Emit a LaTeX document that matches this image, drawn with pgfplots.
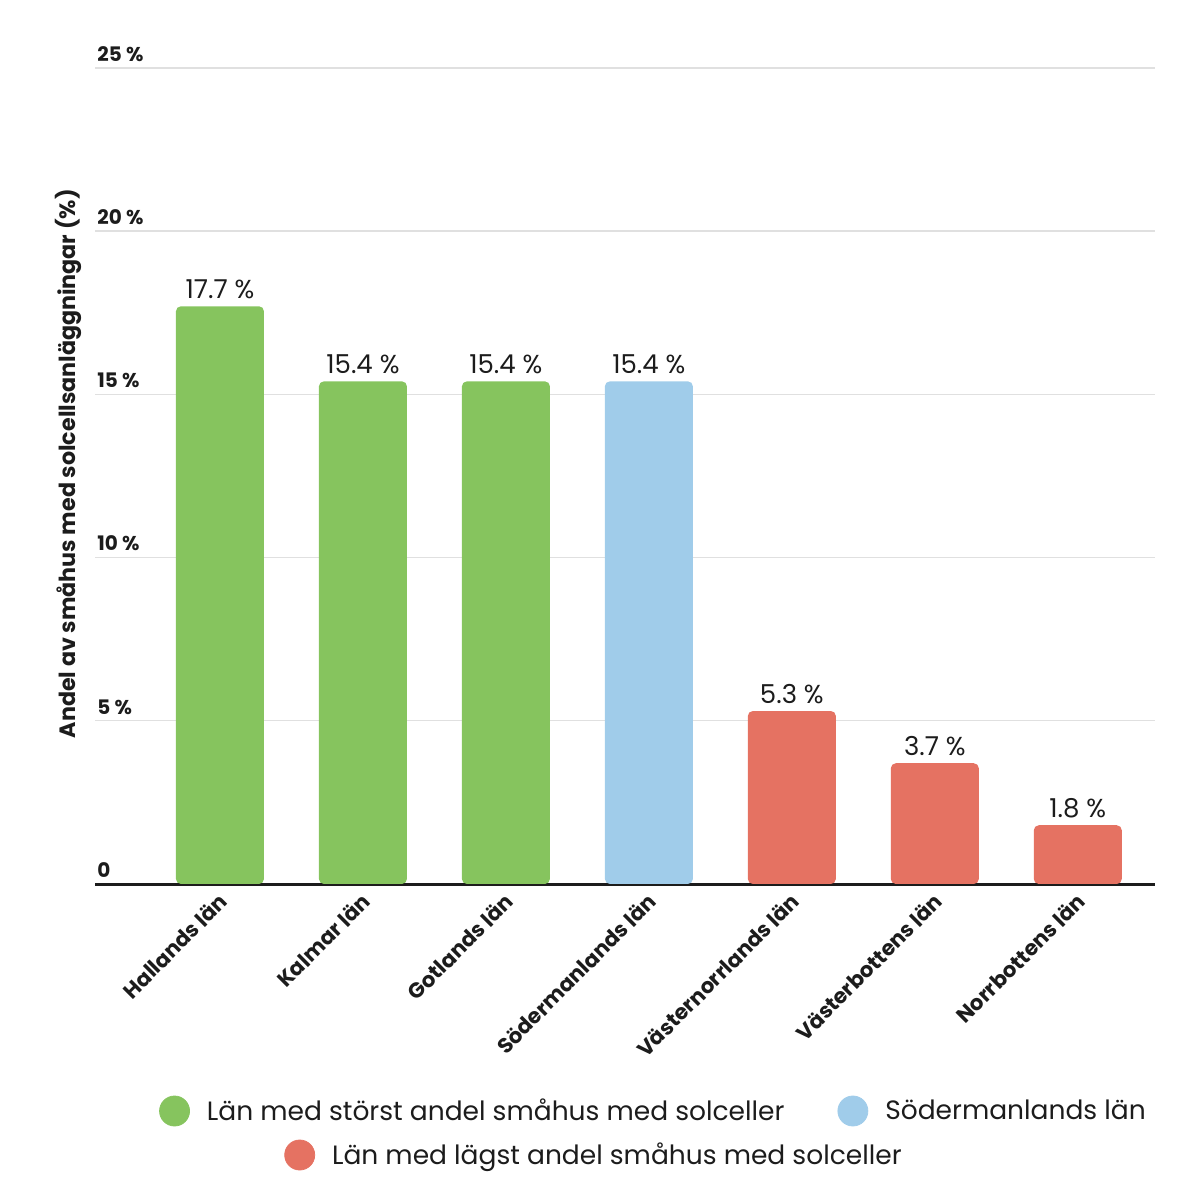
\documentclass[border=0pt]{standalone}
\usepackage{pgfplots}
\pgfplotsset{compat=1.18}
\usepackage{fontspec}
\setmainfont{Poppins}
\definecolor{greenc}{RGB}{134,196,94}
\definecolor{bluec}{RGB}{160,204,234}
\definecolor{redc}{RGB}{229,114,98}
\definecolor{txt}{RGB}{28,28,28}
\pgfplotsset{
  dotlegend/.style={legend image code/.code={\fill[#1] (0bp,0bp) circle (7.5bp);}},
  layers/mylayers/.define layer set={axis background,axis grid,pre main,main,axis ticks,axis lines,axis tick labels,axis descriptions,axis foreground}{},
}
\pgfplotstableread{
x y
0 17.7
1 15.4
2 15.4
}\greendata
\pgfplotstableread{
x y
3 15.4
}\bluedata
\pgfplotstableread{
x y
4 5.3
5 3.7
6 1.8
}\reddata
\begin{document}
\begin{tikzpicture}
\begin{axis}[
  set layers=mylayers,
  at={(0,0)}, anchor=south west,
  scale only axis, width=530bp, height=408bp,
  xmin=-0.874, xmax=6.54, ymin=0, ymax=25,
  axis x line*=bottom, axis y line*=left,
  x axis line style={line width=1.5bp, draw=txt, -},
  y axis line style={draw=none},
  ytick={0,5,...,25},
  yticklabels={0,5 \%,10 \%,15 \%,20 \%,25 \%},
  yticklabel style={anchor=south west, inner sep=0pt, xshift=1bp, yshift=3bp,
    font=\fontsize{10bp}{12bp}\selectfont\bfseries, text=txt},
  ymajorgrids, grid style={draw=black!12, line width=0.7bp},
  major tick length=0pt,
  xtick={0,...,6},
  xticklabels={Hallands län, Kalmar län, Gotlands län, Södermanlands län, Västernorrlands län, Västerbottens län, Norrbottens län},
  xticklabel style={xshift=2.5bp, yshift=-6bp, rotate=45, anchor=east, inner sep=1bp,
    font=\fontsize{10.6bp}{12bp}\selectfont\bfseries, text=txt},
  ylabel={Andel av småhus med solcellsanläggningar (\%)},
  ylabel style={at={(axis description cs:-0.0255,0.515)}, anchor=center,
    font=\fontsize{11.1bp}{13bp}\selectfont\bfseries, text=txt},
  ybar, bar width=44bp, bar shift=0pt,
  nodes near coords={\pgfmathprintnumber[fixed,fixed zerofill,precision=1,assume math mode=true]{\pgfplotspointmeta}\ \%},
  every node near coord/.append style={font=\fontsize{13bp}{15bp}\selectfont, text=txt},
  legend style={at={(0.5278,-0.2782)}, anchor=center, draw=none, fill=none,
    font=\fontsize{13.25bp}{15bp}\selectfont, text=txt,
    legend columns=2,
    /tikz/every odd column/.style={column sep=6.5bp},
    /tikz/every even column/.style={column sep=24.5bp}},
  legend cell align=left,
]
\addplot[fill=greenc, draw=none, rounded corners=2.5bp, forget plot] table[x=x,y=y] {\greendata};
\addplot[fill=bluec, draw=none, rounded corners=2.5bp, forget plot] table[x=x,y=y] {\bluedata};
\addplot[fill=redc, draw=none, rounded corners=2.5bp, forget plot] table[x=x,y=y] {\reddata};
\addlegendimage{dotlegend=greenc}
\addlegendentry{Län med störst andel småhus med solceller}
\addlegendimage{dotlegend=bluec}
\addlegendentry{Södermanlands län}
\end{axis}
\begin{axis}[
  at={(250bp,-135.5bp)}, anchor=center, hide axis,
  scale only axis, width=1bp, height=1bp,
  xmin=0, xmax=1, ymin=0, ymax=1,
  legend style={at={(0.5,0.5)}, anchor=center, draw=none, fill=none,
    font=\fontsize{13.25bp}{15bp}\selectfont, text=txt,
    /tikz/every odd column/.style={column sep=6.5bp}},
]
\addlegendimage{dotlegend=redc}
\addlegendentry{Län med lägst andel småhus med solceller}
\addplot[draw=none, forget plot] coordinates {(0,0)};
\end{axis}
\pgfresetboundingbox
\useasboundingbox (-47.5bp,-158bp) rectangle (552.5bp,442bp);
\end{tikzpicture}
\end{document}
